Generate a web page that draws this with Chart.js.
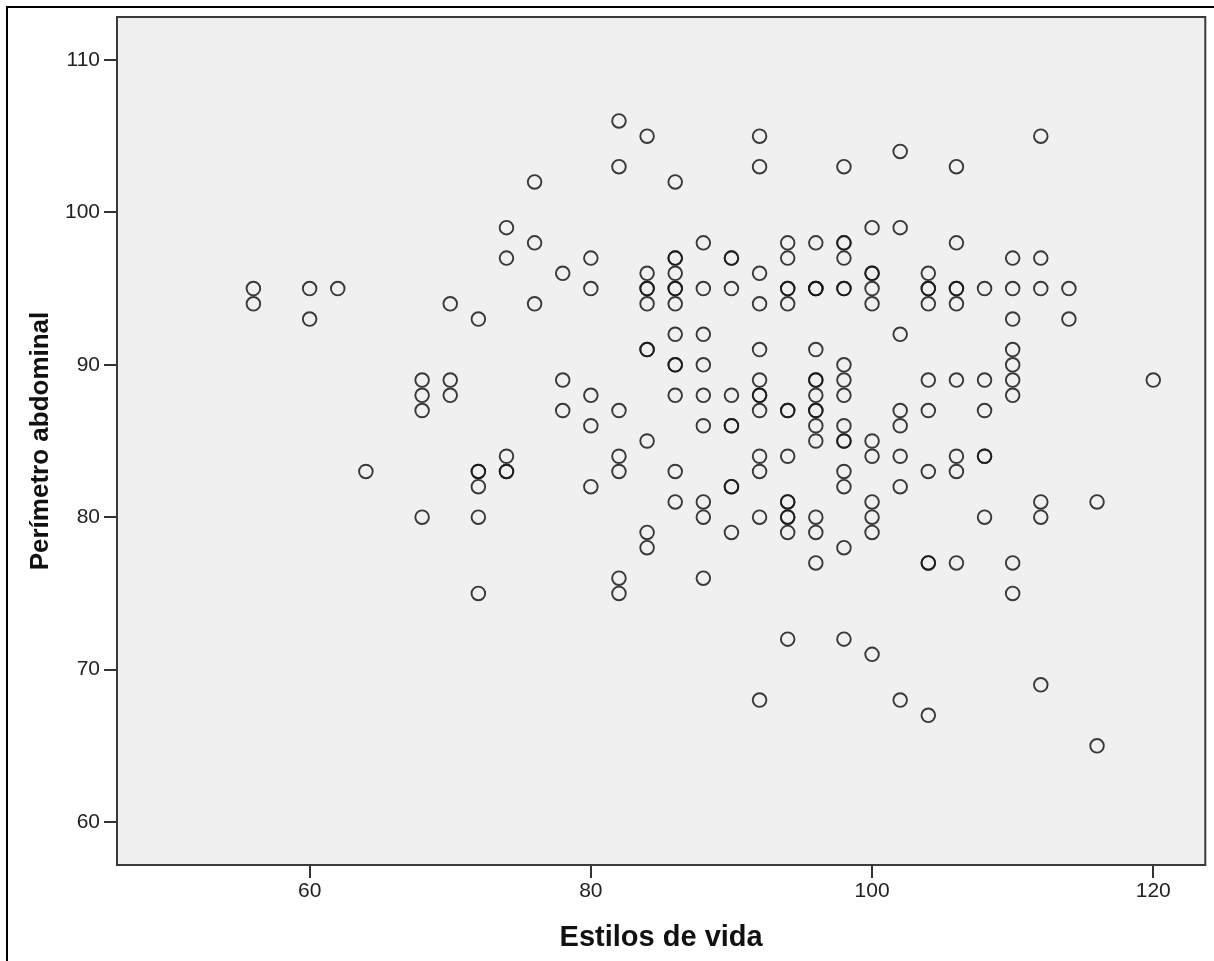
<!DOCTYPE html>
<html>
<head>
<meta charset="utf-8">
<script src="https://cdn.jsdelivr.net/npm/chart.js@4.4.1/dist/chart.umd.min.js"></script>
<style>
    html, body { margin: 0; padding: 0; background: #fff; }
    #wrap { width: 1214px; height: 961px; }
</style>
</head>
<body>
<div id="wrap"><canvas id="scatter" width="1214" height="961"></canvas></div>
<script>
// ===============================
// DATA (repeated values = overlapping circles)
// ===============================
const xLevels = [56, 60, 62, 64, 68, 70, 72, 74, 76, 78, 80, 82, 84, 86, 88, 90, 92, 94, 96, 98, 100, 102, 104, 106, 108, 110, 112, 114, 116, 120];

const yByLevel = [
    [95, 94],                                                     // 56
    [95, 93],                                                     // 60
    [95],                                                         // 62
    [83],                                                         // 64
    [89, 88, 87, 80],                                             // 68
    [94, 89, 88],                                                 // 70
    [93, 83, 83, 82, 80, 75],                                     // 72
    [99, 97, 84, 83, 83],                                         // 74
    [102, 98, 94],                                                // 76
    [96, 89, 87],                                                 // 78
    [97, 95, 88, 86, 82],                                         // 80
    [106, 103, 87, 84, 83, 76, 75],                               // 82
    [105, 96, 95, 95, 94, 91, 91, 85, 79, 78],                    // 84
    [102, 97, 97, 96, 95, 95, 94, 92, 90, 90, 88, 83, 81],        // 86
    [98, 95, 92, 90, 88, 86, 81, 80, 76],                         // 88
    [97, 97, 95, 88, 86, 86, 82, 82, 79],                         // 90
    [105, 103, 96, 94, 91, 89, 88, 88, 87, 84, 83, 80, 68],       // 92
    [98, 97, 95, 95, 94, 87, 87, 84, 81, 81, 80, 80, 79, 72],     // 94
    [98, 95, 95, 95, 91, 89, 89, 88, 87, 87, 86, 85, 80, 79, 77], // 96
    [103, 98, 98, 97, 95, 95, 90, 89, 88, 86, 85, 85, 83, 82, 78, 72], // 98
    [99, 96, 96, 95, 94, 85, 84, 81, 80, 79, 71],                 // 100
    [104, 99, 92, 87, 86, 84, 82, 68],                            // 102
    [96, 95, 95, 94, 89, 87, 83, 77, 77, 67],                     // 104
    [103, 98, 95, 95, 94, 89, 84, 83, 77],                        // 106
    [95, 89, 87, 84, 84, 80],                                     // 108
    [97, 95, 93, 91, 90, 89, 88, 77, 75],                         // 110
    [105, 97, 95, 81, 80, 69],                                    // 112
    [95, 93],                                                     // 114
    [81, 65],                                                     // 116
    [89]                                                          // 120
];

const xTicks = [60, 80, 100, 120];
const yTicks = [60, 70, 80, 90, 100, 110];
const xTitle = "Estilos de vida";
const yTitle = "Perímetro abdominal";

const FONT = "'Liberation Sans', Arial, sans-serif";

const points = [];
xLevels.forEach((x, i) => {
    yByLevel[i].forEach(y => points.push({ x, y }));
});

// ===============================
// PLOT FRAME (grey panel + borders)
// ===============================
const framePlugin = {
    id: "frame",
    beforeDraw(chart) {
        const { ctx, chartArea: a } = chart;
        ctx.save();
        ctx.fillStyle = "#f0f0f0";
        ctx.fillRect(a.left, a.top, a.right - a.left, a.bottom - a.top);
        ctx.restore();
    },
    afterDraw(chart) {
        const { ctx, chartArea: a } = chart;
        ctx.save();
        ctx.strokeStyle = "#3a3a3a";
        ctx.lineWidth = 2;
        ctx.strokeRect(a.left, a.top, a.right - a.left, a.bottom - a.top);

        ctx.strokeStyle = "#000";
        ctx.beginPath();
        ctx.moveTo(7, chart.height);
        ctx.lineTo(7, 7);
        ctx.lineTo(chart.width, 7);
        ctx.stroke();
        ctx.restore();
    }
};

function axisOptions(min, max, ticks, title, fit, labelPad, titleSize, titlePad) {
    return {
        type: "linear",
        min,
        max,
        afterBuildTicks: s => { s.ticks = ticks.map(v => ({ value: v })); },
        afterFit: fit,
        grid: { drawOnChartArea: false, drawTicks: true, tickLength: 13, color: "#333", lineWidth: 2 },
        border: { display: false },
        ticks: { color: "#222", font: { family: FONT, size: 21 }, padding: labelPad },
        title: {
            display: true,
            text: title,
            color: "#111",
            font: { family: FONT, size: titleSize, weight: "bold" },
            padding: titlePad
        }
    };
}

new Chart(document.getElementById("scatter"), {
    type: "scatter",
    data: {
        datasets: [{
            label: yTitle,
            data: points,
            pointStyle: "circle",
            pointRadius: 6.8,
            pointHoverRadius: 6.8,
            borderWidth: 1.9,
            borderColor: "rgba(25,25,25,0.85)",
            backgroundColor: "rgba(0,0,0,0)"
        }]
    },
    options: {
        responsive: false,
        animation: false,
        layout: { padding: { top: 17, right: 6, left: 0, bottom: 0 } },
        plugins: {
            legend: { display: false },
            tooltip: { enabled: false }
        },
        scales: {
            x: axisOptions(46.3, 123.7, xTicks, xTitle, s => { s.height = 96; }, 1, 29, { top: 0, bottom: 6 }),
            y: axisOptions(57.18, 112.82, yTicks, yTitle, s => { s.width = 117; }, 4, 26, { top: 25, bottom: 0 })
        }
    },
    plugins: [framePlugin]
});
</script>
</body>
</html>
